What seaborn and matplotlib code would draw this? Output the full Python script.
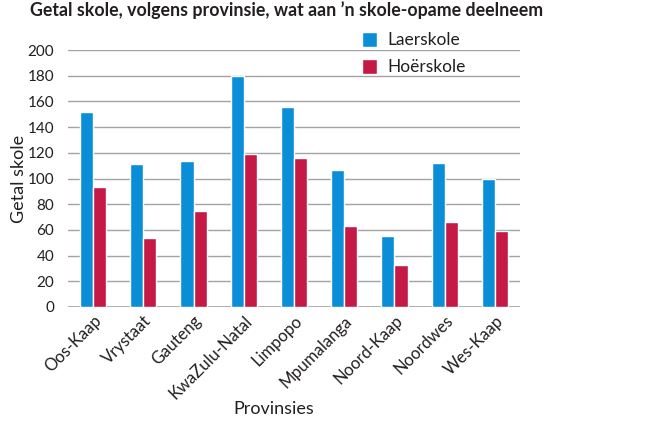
import numpy as np
import pandas as pd
import seaborn as sns
import matplotlib.pyplot as plt

# Data
provinces = ["Oos-Kaap", "Vrystaat", "Gauteng", "KwaZulu-Natal", "Limpopo",
             "Mpumalanga", "Noord-Kaap", "Noordwes", "Wes-Kaap"]
laerskole = [152, 111, 114, 180, 156, 107, 55, 112, 100]
hoerskole = [93, 54, 75, 119, 116, 63, 33, 66, 59]
series_names = ["Laerskole", "Hoërskole"]
yticks = list(range(0, 201, 20))

df = pd.DataFrame({
    "Provinsie": provinces * 2,
    "Skool": [series_names[0]] * len(provinces) + [series_names[1]] * len(provinces),
    "Getal": laerskole + hoerskole,
})

sns.set_theme(style="white")
plt.rcParams['font.family'] = ['Lato', 'DejaVu Sans']

fig = plt.figure(figsize=(6.72, 4.24), dpi=100)
ax = fig.add_axes([68 / 672, 1 - 307 / 424, (520 - 68) / 672, (307 - 50) / 424])

palette = {"Laerskole": "#0a8ed8", "Hoërskole": "#c41a45"}
sns.barplot(data=df, x="Provinsie", y="Getal", hue="Skool", palette=palette,
            width=0.52, gap=0, saturation=1, ax=ax, legend=True)

ax.set_ylim(0, 200)
ax.set_yticks(yticks)
ax.yaxis.grid(True, color="#a3a3a3", linewidth=1)
ax.set_axisbelow(True)
for s in ax.spines.values():
    s.set_visible(False)
ax.axhline(0, color="#a3a3a3", linewidth=1.2, zorder=0.5)

ax.tick_params(axis="y", length=0, labelsize=11, labelcolor="#231f20", pad=10)
ax.tick_params(axis="x", length=0, labelsize=12, labelcolor="#231f20", pad=4)
plt.setp(ax.get_xticklabels(), rotation=45, ha="right", rotation_mode="anchor")

ax.set_ylabel("Getal skole", fontsize=13, color="#231f20")
ax.yaxis.set_label_coords(-0.09, 0.5)
ax.set_xlabel("Provinsies", fontsize=13, color="#231f20")
ax.xaxis.set_label_coords(0.455, -0.365)

fig.text(30 / 672, 1 - 16 / 424, "Getal skole, volgens provinsie, wat aan \u2019n skole-opame deelneem",
         fontsize=12.8, fontweight="bold", color="#231f20", va="baseline")

ax.legend(loc="upper left", bbox_to_anchor=(0.615, 1.13), frameon=False,
          fontsize=12.5, handlelength=0.9, handleheight=0.9, labelspacing=0.62,
          handletextpad=0.6, labelcolor="#231f20")

fig.savefig("out.png", dpi=100)
